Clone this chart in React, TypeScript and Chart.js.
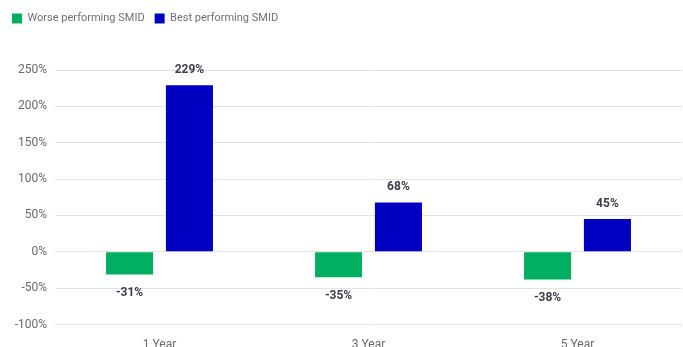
import React, { useEffect, useRef } from "react";
import { Chart, registerables } from "chart.js";

Chart.register(...registerables);

const categories = ["1 Year", "3 Year", "5 Year"];
const worseSeries = [-31, -35, -38];
const bestSeries = [229, 68, 45];
const seriesLabels = ["Worse performing SMID", "Best performing SMID"];
const yMin = -100;
const yMax = 250;
const yStep = 50;

const FONT = "Roboto, 'Noto Sans', sans-serif";

const valueLabels = {
  id: "valueLabels",
  afterDatasetsDraw(chart: any) {
    const ctx = chart.ctx;
    ctx.save();
    ctx.font = `bold 12px ${FONT}`;
    ctx.fillStyle = "#3d3d4a";
    ctx.textAlign = "center";
    ctx.textBaseline = "middle";
    chart.data.datasets.forEach((ds: any, i: number) => {
      const meta = chart.getDatasetMeta(i);
      meta.data.forEach((bar: any, j: number) => {
        const v = ds.data[j];
        const y = v >= 0 ? bar.y - 15 : bar.y + 19;
        ctx.fillText(`${v}%`, bar.x, y);
      });
    });
    ctx.restore();
  },
};

const legendMargin = {
  id: "legendMargin",
  beforeInit(chart: any) {
    const legend = chart.legend;
    const orig = legend.fit;
    legend.fit = function () {
      orig.call(legend);
      legend.height += 36;
    };
  },
};

export default function App() {
  const ref = useRef<HTMLCanvasElement>(null);
  useEffect(() => {
    document.body.style.margin = "0";
    const chart = new Chart(ref.current!, {
      type: "bar",
      data: {
        labels: categories,
        datasets: [
          {
            label: seriesLabels[0],
            data: worseSeries,
            backgroundColor: "#00af62",
            categoryPercentage: 0.573,
            barPercentage: 0.786,
          },
          {
            label: seriesLabels[1],
            data: bestSeries,
            backgroundColor: "#0000c0",
            categoryPercentage: 0.573,
            barPercentage: 0.786,
          },
        ],
      },
      options: {
        responsive: false,
        animation: false,
        layout: { padding: { left: 2, right: 1, top: 3, bottom: 0 } },
        plugins: {
          legend: {
            position: "top",
            align: "start",
            labels: {
              boxWidth: 10,
              boxHeight: 10,
              padding: 10,
              color: "#707070",
              font: { family: FONT, size: 11 },
            },
          },
          tooltip: { enabled: false },
        },
        scales: {
          x: {
            grid: { display: false },
            border: { display: false },
            ticks: { color: "#6a6a6a", font: { family: FONT, size: 12 }, padding: 5 },
          },
          y: {
            min: yMin,
            max: yMax,
            afterFit: (s: any) => {
              s.width = 53;
            },
            ticks: {
              stepSize: yStep,
              color: "#6a6a6a",
              font: { family: FONT, size: 12 },
              padding: 8,
              callback: (v: any) => `${v}%`,
            },
            grid: { color: "#e3e3e3", tickLength: 0, lineWidth: 1 },
            border: { display: false },
          },
        },
      },
      plugins: [valueLabels, legendMargin],
    });
    return () => chart.destroy();
  }, []);
  return (
    <div style={{ width: 683, height: 347, overflow: "hidden", position: "relative" }}>
      <canvas ref={ref} width={683} height={357} style={{ display: "block" }} />
    </div>
  );
}
